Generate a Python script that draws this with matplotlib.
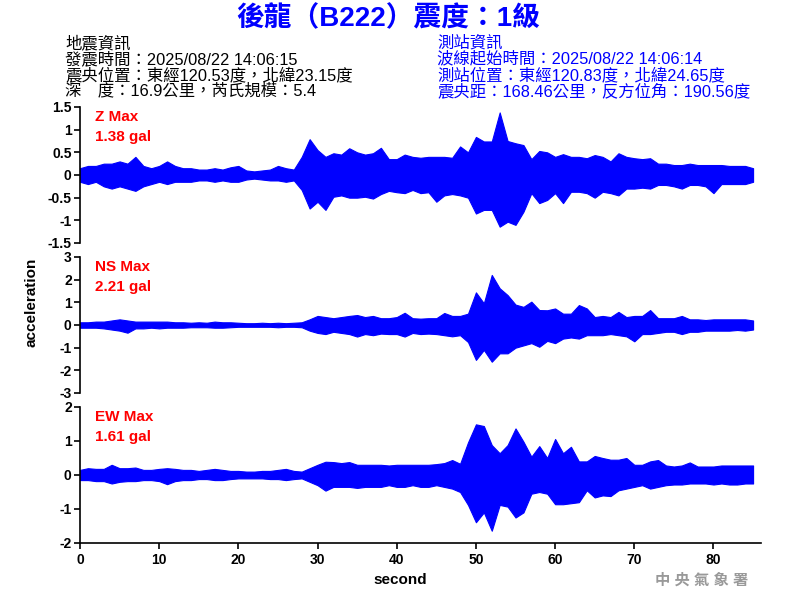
import numpy as np
import matplotlib
matplotlib.use("Agg")
import matplotlib.pyplot as plt

plt.rcParams['axes.unicode_minus'] = False

# time bins (1 s) and per-second upper / lower envelope
seconds = list(range(86))

z_hi = [0.15, 0.20, 0.20, 0.25, 0.25, 0.30, 0.25, 0.40, 0.20, 0.15,
        0.20, 0.30, 0.20, 0.15, 0.15, 0.12, 0.12, 0.15, 0.12, 0.17,
        0.20, 0.10, 0.08, 0.10, 0.12, 0.20, 0.15, 0.12, 0.40, 0.79,
        0.55, 0.40, 0.48, 0.45, 0.59, 0.50, 0.45, 0.48, 0.60, 0.35,
        0.35, 0.45, 0.40, 0.38, 0.40, 0.40, 0.40, 0.38, 0.63, 0.50,
        0.84, 0.74, 0.74, 1.38, 0.75, 0.70, 0.66, 0.35, 0.53, 0.50,
        0.40, 0.46, 0.40, 0.40, 0.37, 0.44, 0.40, 0.30, 0.48, 0.40,
        0.37, 0.35, 0.37, 0.25, 0.25, 0.22, 0.22, 0.25, 0.22, 0.22,
        0.22, 0.22, 0.20, 0.20, 0.20, 0.15]
z_lo = [-0.15, -0.20, -0.15, -0.25, -0.30, -0.25, -0.30, -0.35, -0.25, -0.20,
        -0.15, -0.20, -0.15, -0.15, -0.15, -0.12, -0.12, -0.15, -0.12, -0.15,
        -0.15, -0.10, -0.08, -0.10, -0.12, -0.12, -0.15, -0.12, -0.33, -0.74,
        -0.59, -0.77, -0.48, -0.45, -0.50, -0.50, -0.48, -0.52, -0.42, -0.35,
        -0.38, -0.40, -0.33, -0.40, -0.38, -0.59, -0.45, -0.42, -0.45, -0.50,
        -0.85, -0.77, -0.77, -1.14, -1.03, -1.10, -0.81, -0.40, -0.62, -0.55,
        -0.40, -0.62, -0.37, -0.37, -0.40, -0.50, -0.37, -0.40, -0.45, -0.30,
        -0.30, -0.28, -0.30, -0.22, -0.22, -0.25, -0.30, -0.22, -0.22, -0.25,
        -0.40, -0.20, -0.20, -0.20, -0.20, -0.15]

ns_hi = [0.12, 0.12, 0.15, 0.15, 0.20, 0.25, 0.20, 0.15, 0.15, 0.15,
         0.15, 0.15, 0.12, 0.12, 0.10, 0.12, 0.10, 0.15, 0.12, 0.12,
         0.10, 0.08, 0.08, 0.10, 0.08, 0.10, 0.08, 0.10, 0.12, 0.25,
         0.40, 0.35, 0.30, 0.35, 0.40, 0.44, 0.35, 0.40, 0.30, 0.30,
         0.35, 0.54, 0.30, 0.28, 0.30, 0.30, 0.53, 0.40, 0.40, 0.50,
         1.44, 0.96, 2.21, 1.62, 1.32, 0.90, 0.80, 1.03, 0.66, 0.65,
         0.73, 0.50, 0.50, 0.88, 0.73, 0.35, 0.40, 0.35, 0.58, 0.35,
         0.40, 0.40, 0.66, 0.30, 0.30, 0.30, 0.40, 0.25, 0.25, 0.22,
         0.25, 0.25, 0.25, 0.25, 0.25, 0.20]
ns_lo = [-0.12, -0.12, -0.12, -0.15, -0.20, -0.25, -0.34, -0.15, -0.15, -0.12,
         -0.15, -0.12, -0.12, -0.12, -0.10, -0.10, -0.10, -0.12, -0.12, -0.10,
         -0.08, -0.08, -0.08, -0.08, -0.08, -0.10, -0.08, -0.08, -0.10, -0.25,
         -0.35, -0.40, -0.30, -0.35, -0.40, -0.51, -0.40, -0.45, -0.38, -0.40,
         -0.40, -0.51, -0.35, -0.40, -0.38, -0.40, -0.45, -0.50, -0.45, -0.75,
         -1.54, -1.10, -1.62, -1.25, -1.25, -1.00, -0.90, -0.80, -0.96, -0.70,
         -0.80, -0.60, -0.55, -0.60, -0.45, -0.45, -0.45, -0.40, -0.45, -0.50,
         -0.72, -0.40, -0.40, -0.35, -0.30, -0.30, -0.40, -0.30, -0.30, -0.25,
         -0.25, -0.25, -0.25, -0.22, -0.25, -0.20]

ew_hi = [0.15, 0.20, 0.18, 0.18, 0.30, 0.20, 0.20, 0.22, 0.15, 0.15,
         0.18, 0.20, 0.18, 0.15, 0.15, 0.12, 0.15, 0.18, 0.15, 0.12,
         0.12, 0.10, 0.10, 0.12, 0.12, 0.15, 0.18, 0.12, 0.10, 0.20,
         0.30, 0.39, 0.38, 0.35, 0.38, 0.30, 0.30, 0.30, 0.30, 0.28,
         0.30, 0.30, 0.30, 0.30, 0.30, 0.32, 0.35, 0.44, 0.33, 0.96,
         1.49, 1.44, 0.88, 0.64, 0.88, 1.37, 0.98, 0.54, 0.85, 0.50,
         1.06, 0.64, 0.83, 0.40, 0.40, 0.56, 0.50, 0.45, 0.45, 0.50,
         0.30, 0.30, 0.40, 0.44, 0.28, 0.25, 0.28, 0.37, 0.25, 0.25,
         0.25, 0.28, 0.28, 0.28, 0.28, 0.28]
ew_lo = [-0.15, -0.15, -0.18, -0.18, -0.25, -0.20, -0.18, -0.18, -0.15, -0.15,
         -0.18, -0.27, -0.18, -0.15, -0.15, -0.12, -0.12, -0.15, -0.15, -0.12,
         -0.10, -0.10, -0.10, -0.10, -0.12, -0.12, -0.15, -0.12, -0.10, -0.20,
         -0.30, -0.46, -0.35, -0.35, -0.35, -0.38, -0.35, -0.35, -0.35, -0.30,
         -0.35, -0.35, -0.30, -0.35, -0.35, -0.30, -0.35, -0.40, -0.50, -0.88,
         -1.39, -1.10, -1.64, -0.88, -0.93, -1.25, -1.10, -0.55, -0.50, -0.55,
         -0.86, -0.86, -0.83, -0.80, -0.45, -0.66, -0.60, -0.62, -0.45, -0.40,
         -0.35, -0.30, -0.40, -0.35, -0.30, -0.28, -0.28, -0.25, -0.25, -0.25,
         -0.28, -0.25, -0.28, -0.28, -0.25, -0.25]

z_ticks = [-1.5, -1, -0.5, 0, 0.5, 1, 1.5]
ns_ticks = [-3, -2, -1, 0, 1, 2, 3]
ew_ticks = [-2, -1, 0, 1, 2]
x_ticks = [0, 10, 20, 30, 40, 50, 60, 70, 80]

title = "後龍（B222）震度：1級"
quake_info = ["地震資訊",
              "發震時間：2025/08/22 14:06:15",
              "震央位置：東經120.53度，北緯23.15度",
              "深　度：16.9公里，芮氏規模：5.4"]
station_info = ["測站資訊",
                "波線起始時間：2025/08/22 14:06:14",
                "測站位置：東經120.83度，北緯24.65度",
                "震央距：168.46公里，反方位角：190.56度"]

traces = [("Z Max", "1.38 gal", z_hi, z_lo, z_ticks),
          ("NS Max", "2.21 gal", ns_hi, ns_lo, ns_ticks),
          ("EW Max", "1.61 gal", ew_hi, ew_lo, ew_ticks)]

W, H = 800, 600
fig = plt.figure(figsize=(8, 6), dpi=100)
mixed = ['Liberation Sans', 'Noto Sans CJK TC', 'DejaVu Sans']


def fx(px):
    return px / W


def fy(py):
    return 1 - py / H


tops = [107, 257, 407]
for i, (name, peak, hi, lo, ticks) in enumerate(traces):
    top = tops[i]
    ax = fig.add_axes([fx(80), fy(top + 136), fx(681), 136 / H])
    # envelope of the trace, one min/max pair per second
    ax.fill_between(seconds, lo, hi, color='#0000ff', linewidth=0.8)
    ax.set_xlim(0, 86)
    ax.set_ylim(ticks[0], ticks[-1])
    ax.set_yticks(ticks)
    ax.set_yticklabels(["%g" % v for v in ticks])
    for s in ['top', 'right']:
        ax.spines[s].set_visible(False)
    ax.spines['left'].set_linewidth(1.2)
    ax.tick_params(axis='y', direction='out', length=4, width=1.2, pad=2)
    for lab in ax.get_yticklabels():
        lab.set_fontfamily('Liberation Sans')
        lab.set_fontweight('bold')
        lab.set_fontsize(10)
    if i < 2:
        ax.spines['bottom'].set_visible(False)
        ax.set_xticks([])
    else:
        ax.spines['bottom'].set_linewidth(1.2)
        ax.set_xticks(x_ticks)
        ax.tick_params(axis='x', direction='out', length=4, width=1.2, pad=3)
        for lab in ax.get_xticklabels():
            lab.set_fontfamily('Liberation Sans')
            lab.set_fontweight('bold')
            lab.set_fontsize(10)
    fig.text(fx(95), fy(top + 10), name, color='red', fontsize=11,
             fontweight='bold', family='Liberation Sans', va='center')
    fig.text(fx(95), fy(top + 30), peak, color='red', fontsize=11,
             fontweight='bold', family='Liberation Sans', va='center')

fig.text(fx(388), fy(19), title, color='#0000ff', fontsize=20, fontweight='bold',
         family=mixed, ha='center', va='center')

for k, line in enumerate(quake_info):
    fig.text(fx(65), fy(43 + 16 * k), line, color='black', fontsize=11.8,
             family=mixed, va='center')
for k, line in enumerate(station_info):
    fig.text(fx(437), fy(43 + 16 * k), line, color='#0000ff', fontsize=11.8,
             family=mixed, va='center')

fig.text(fx(32), fy(302), "acceleration", rotation=90, fontsize=11,
         fontweight='bold', family='Liberation Sans', ha='center', va='center')
fig.text(0.5, fy(580), "second", fontsize=11, fontweight='bold',
         family='Liberation Sans', ha='center', va='center')
fig.text(fx(702), fy(580), "中 央 氣 象 署", color='#999999', fontsize=11,
         fontweight='bold', family=mixed, ha='center', va='center')

fig.savefig("out.png", dpi=100)
